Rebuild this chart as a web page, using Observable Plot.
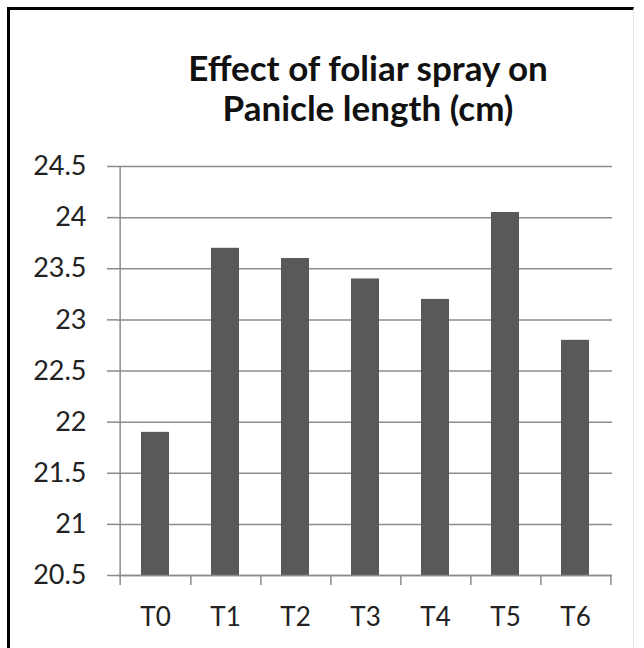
<!DOCTYPE html>
<html>
<head>
<meta charset="utf-8">
<script src="https://cdn.jsdelivr.net/npm/d3@7"></script>
<script src="https://cdn.jsdelivr.net/npm/@observablehq/plot@0.6"></script>
<style>
  html, body { margin: 0; padding: 0; background: #fff; }
  #wrap { position: relative; width: 644px; height: 648px; overflow: hidden; background: #fff; font-family: Lato, sans-serif; }
  #frame { position: absolute; left: 7px; top: 7px; width: 627px; height: 660px; border-left: 3px solid #000; border-top: 3px solid #000; border-right: 1px solid #e4e4e4; box-sizing: border-box; }
  #title { position: absolute; left: 117px; width: 502px; top: 47px; text-align: center; font-weight: bold; font-size: 35px; line-height: 40px; color: #111; }
  #chart { position: absolute; left: 0; top: 140px; }
</style>
</head>
<body>
<div id="wrap">
  <div id="frame"></div>
  <div id="title">Effect of foliar spray on<br>Panicle length (cm)</div>
  <div id="chart"></div>
</div>
<script>
const categories = ["T0", "T1", "T2", "T3", "T4", "T5", "T6"];
const panicleLength = [21.9, 23.7, 23.6, 23.4, 23.2, 24.05, 22.8];
const yTicks = [20.5, 21, 21.5, 22, 22.5, 23, 23.5, 24, 24.5];

const data = categories.map((c, i) => ({treatment: c, value: panicleLength[i]}));

const W = 644, H = 508, ML = 117, MR = 32, MT = 26, MB = 73;
const bw = (W - ML - MR) / categories.length;
const yMin = yTicks[0], yMax = yTicks[yTicks.length - 1];
const gridColor = "#8c8c8c";

const chart = Plot.plot({
  width: W,
  height: H,
  marginLeft: ML,
  marginRight: MR,
  marginTop: MT,
  marginBottom: MB,
  style: {fontFamily: "Lato, sans-serif", color: "#222", background: "transparent", overflow: "visible"},
  x: {type: "band", domain: categories, padding: 0.6, paddingOuter: 0.3, align: 0.5},
  y: {domain: [yMin, yMax]},
  marks: [
    Plot.gridY(yTicks, {stroke: gridColor, strokeOpacity: 1, strokeWidth: 1.5}),
    Plot.barY(data, {x: "treatment", y1: yMin, y2: "value", fill: "#595959"}),
    Plot.ruleY([yMin], {stroke: gridColor, strokeWidth: 1.5}),
    Plot.ruleX([categories[0]], {dx: -bw / 2, insetBottom: -10, stroke: gridColor, strokeWidth: 1.5}),
    Plot.ruleX(categories, {y1: yMin, y2: yMin, dx: bw / 2, insetBottom: -10, stroke: gridColor, strokeWidth: 1.5}),
    Plot.axisY(yTicks, {tickSize: 10, tickPadding: 21, stroke: gridColor, strokeWidth: 1.5, fontSize: 27, tickFormat: d => String(d), label: null, fill: "#222"}),
    Plot.axisX({tickSize: 0, tickPadding: 32, fontSize: 26, label: null, fill: "#222"})
  ]
});
document.getElementById("chart").appendChild(chart);
</script>
</body>
</html>
